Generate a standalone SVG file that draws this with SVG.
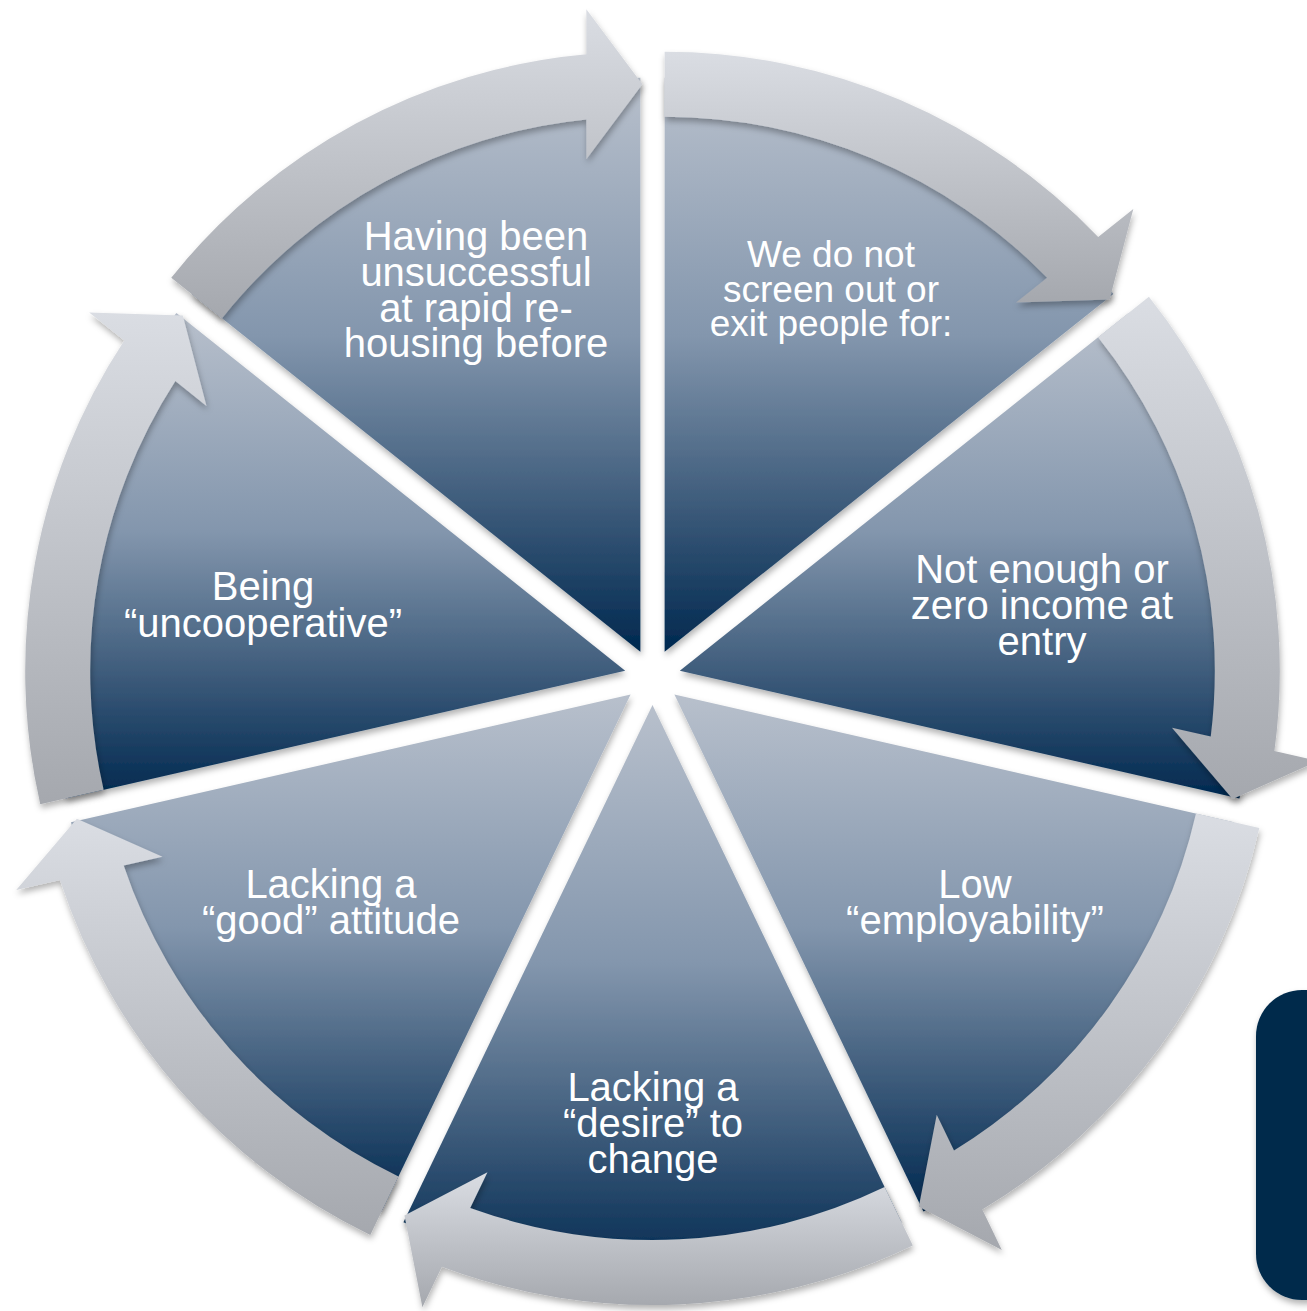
<svg xmlns="http://www.w3.org/2000/svg" width="1307" height="1311" viewBox="0 0 1307 1311">
<style>
.pie{fill:url(#pieGrad);filter:url(#shadow);}
.arr{fill:url(#arrGrad);filter:url(#shadow);}
.lbl{font-family:"Liberation Sans",Arial,Helvetica,sans-serif;font-size:40px;fill:#ffffff;text-anchor:middle;}
.sm{font-size:37px;}
</style>
<defs>
<linearGradient id="pieGrad" x1="0" y1="0" x2="0" y2="1">
<stop offset="0" stop-color="#B8C0CC"/>
<stop offset="0.45" stop-color="#8396AD"/>
<stop offset="1" stop-color="#00284F"/>
</linearGradient>
<linearGradient id="arrGrad" x1="0" y1="0" x2="0" y2="1">
<stop offset="0" stop-color="#DADDE3"/>
<stop offset="1" stop-color="#A5A8AE"/>
</linearGradient>
<filter id="shadow" x="-10%" y="-10%" width="120%" height="120%">
<feDropShadow dx="1" dy="4" stdDeviation="3" flood-color="#000" flood-opacity="0.3"/>
</filter>
</defs>
<rect width="1307" height="1311" fill="#ffffff"/>
<rect x="1256" y="990" width="120" height="310" rx="46" fill="#022B4C" filter="url(#shadow)"/>
<g id="node-screen">
<path class="pie" d="M664.65,651.77 L664.65,77.77 A574,574 0 0 1 1113.42,293.89 Z"/>
<text class="lbl sm" x="831" y="267">We do not</text>
<text class="lbl sm" x="831" y="302">screen out or</text>
<text class="lbl sm" x="831" y="336">exit people for:</text>
</g>
<g id="node-income">
<path class="pie" d="M679.80,670.77 L1128.57,312.89 A574,574 0 0 1 1239.41,798.50 Z"/>
<text class="lbl" x="1042" y="583">Not enough or</text>
<text class="lbl" x="1042" y="619">zero income at</text>
<text class="lbl" x="1042" y="655">entry</text>
</g>
<g id="node-employability">
<path class="pie" d="M674.39,694.46 L1234.00,822.19 A574,574 0 0 1 923.44,1211.62 Z"/>
<text class="lbl" x="975" y="898">Low</text>
<text class="lbl" x="975" y="934">“employability”</text>
</g>
<g id="node-desire">
<path class="pie" d="M652.5,705 L901.55,1222.16 A574,574 0 0 1 403.45,1222.16 Z"/>
<text class="lbl" x="653" y="1101">Lacking a</text>
<text class="lbl" x="653" y="1137">“desire” to</text>
<text class="lbl" x="653" y="1173">change</text>
</g>
<g id="node-attitude">
<path class="pie" d="M630.61,694.46 L381.56,1211.62 A574,574 0 0 1 71.00,822.19 Z"/>
<text class="lbl" x="331" y="898">Lacking a</text>
<text class="lbl" x="331" y="934">“good” attitude</text>
</g>
<g id="node-uncooperative">
<path class="pie" d="M625.20,670.77 L65.59,798.50 A574,574 0 0 1 176.43,312.89 Z"/>
<text class="lbl" x="263" y="600">Being</text>
<text class="lbl" x="263" y="637">“uncooperative”</text>
</g>
<g id="node-rehousing">
<path class="pie" d="M640.35,651.77 L191.58,293.89 A574,574 0 0 1 640.35,77.77 Z"/>
<text class="lbl" x="476" y="250">Having been</text>
<text class="lbl" x="476" y="286">unsuccessful</text>
<text class="lbl" x="476" y="322">at rapid re-</text>
<text class="lbl" x="476" y="357">housing before</text>
</g>
<g id="connectors">
<path class="arr" d="M664.65,51.77 A600,600 0 0 1 1098.20,236.95 L1133.31,208.96 L1109.59,299.50 L1016.03,302.48 L1047.15,277.67 A535,535 0 0 0 664.65,116.77 Z"/>
<path class="arr" d="M1148.90,296.68 A600,600 0 0 1 1274.43,751.10 L1318.21,761.09 L1232.63,799.00 L1171.97,727.72 L1210.77,736.57 A535,535 0 0 0 1098.08,337.20 Z"/>
<path class="arr" d="M1259.35,827.97 A600,600 0 0 1 982.33,1209.45 L1001.81,1249.90 L918.82,1206.63 L936.73,1114.76 L954.00,1150.62 A535,535 0 0 0 1195.98,813.51 Z"/>
<path class="arr" d="M912.83,1245.58 A600,600 0 0 1 441.86,1266.85 L422.38,1307.30 L404.47,1215.43 L487.46,1172.16 L470.20,1208.02 A535,535 0 0 0 884.63,1187.02 Z"/>
<path class="arr" d="M370.28,1235.04 A600,600 0 0 1 60.01,880.09 L16.24,890.08 L76.89,818.79 L162.47,856.70 L123.67,865.55 A535,535 0 0 0 398.48,1176.48 Z"/>
<path class="arr" d="M40.24,804.28 A600,600 0 0 1 124.31,340.39 L89.21,312.40 L182.76,315.38 L206.48,405.92 L175.36,381.11 A535,535 0 0 0 103.61,789.82 Z"/>
<path class="arr" d="M171.25,277.68 A600,600 0 0 1 586.35,54.17 L586.35,9.27 L642.35,84.27 L586.35,159.27 L586.35,119.47 A535,535 0 0 0 222.07,318.20 Z"/>
</g>
</svg>
